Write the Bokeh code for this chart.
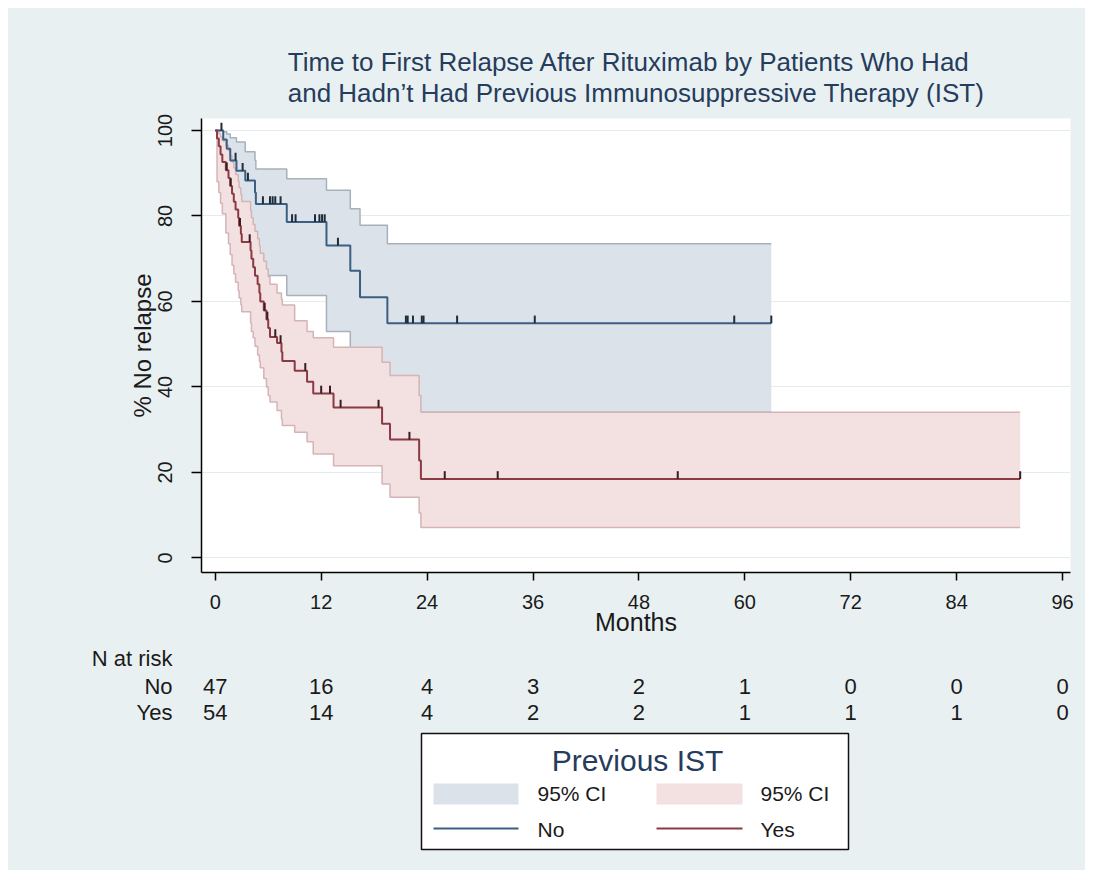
import numpy as np
from bokeh.plotting import figure
from bokeh.layouts import column
from bokeh.models import Range1d, FixedTicker, ColumnDataSource
from bokeh.embed import file_html
from bokeh.resources import INLINE
from bokeh.core.properties import value

FONT = "Liberation Sans"
BG = "#e9f0f2"
NAVY = "#263c5c"
BLUE_LINE = "#3b5f82"
RED_LINE = "#8b3a43"
BLUE_FILL = "#dbe2e9"
BLUE_EDGE = "#a7b1bb"
RED_FILL = "#f3e0e1"
RED_EDGE = "#d4b4b7"

# ---------------- data (months, % no relapse) ----------------
# Previous IST = No
no_t = [0, 0.9, 1.3, 1.7, 2.4, 3.4, 4.5, 4.6, 8.1, 12.6, 15.3, 16.4, 19.5]
no_s = [100, 97.9, 95.7, 93.0, 90.6, 88.3, 85.5, 82.8, 78.6, 73.1, 67.2, 61.0, 54.9]
no_lo = [100, 86.0, 83.5, 80.5, 77.5, 75.0, 71.0, 66.1, 61.4, 53.0, 47.5, 41.5, 34.1]
no_hi = [100, 99.7, 99.2, 98.3, 97.3, 95.0, 93.0, 91.0, 88.7, 86.0, 81.7, 77.8, 73.5]
no_end = 63.0
no_cens = [0.7, 2.3, 3.1, 3.7, 5.4, 6.2, 6.5, 6.8, 7.4, 8.7, 9.1, 11.3, 11.8, 12.1,
           12.4, 13.9, 21.6, 21.8, 22.4, 23.4, 23.6, 27.4, 36.2, 58.8, 63.0]

# Previous IST = Yes
yes_t = [0, 0.2, 0.4, 0.6, 0.8, 1.2, 1.5, 1.7, 1.9, 2.1, 2.3, 2.6, 2.7, 2.9, 3.0,
         4.0, 4.1, 4.3, 4.5, 4.8, 5.0, 5.1, 5.5, 5.8, 6.0, 6.2, 7.0, 7.5, 7.6,
         9.0, 10.4, 11.1, 13.4, 18.9, 19.8, 23.1, 23.3]
yes_s = [100, 98.1, 96.3, 94.4, 92.6, 90.7, 88.9, 87.0, 85.2, 83.3, 81.5, 79.6, 77.7,
         75.8, 73.9, 71.9, 70.0, 68.0, 66.0, 64.0, 62.0, 60.0, 57.9, 55.8, 53.8, 51.7,
         50.3, 48.2, 46.1, 43.8, 41.2, 38.5, 35.2, 31.4, 27.7, 22.8, 18.5]
yes_lo = [100, 88.0, 85.5, 83.0, 80.5, 76.0, 73.5, 71.0, 68.5, 66.5, 64.5, 62.5, 60.8,
          59.2, 57.6, 55.0, 53.0, 51.5, 49.5, 47.5, 46.0, 44.5, 42.0, 40.0, 38.0, 36.5,
          34.5, 32.5, 31.0, 29.4, 27.2, 24.3, 21.6, 17.3, 14.2, 10.5, 7.1]
yes_hi = [100, 99.8, 99.3, 98.5, 97.6, 96.5, 95.3, 94.0, 92.6, 91.2, 89.7, 88.1, 86.6,
          85.0, 83.4, 81.3, 79.6, 78.0, 76.4, 74.7, 73.0, 71.3, 69.4, 67.6, 65.8, 64.0,
          62.0, 60.5, 59.2, 55.5, 53.0, 51.5, 49.3, 45.8, 42.7, 38.0, 34.1]
yes_end = 91.2
yes_cens = [1.3, 1.75, 2.8, 3.9, 5.6, 5.9, 6.8, 7.4, 10.2, 12.0, 13.0, 14.2, 18.5,
            22.0, 26.0, 32.0, 52.4, 91.2]

x_ticks = [0, 12, 24, 36, 48, 60, 72, 84, 96]
y_ticks = [0, 20, 40, 60, 80, 100]
risk_no = [47, 16, 4, 3, 2, 1, 0, 0, 0]
risk_yes = [54, 14, 4, 2, 2, 1, 1, 1, 0]
risk_header = "N at risk"
risk_rows = ["No", "Yes"]

title_text = ("Time to First Relapse After Rituximab by Patients Who Had\n"
              "and Hadn\u2019t Had Previous Immunosuppressive Therapy (IST)")


def extend(t, vals, end):
    return list(t) + [end], list(vals) + [vals[-1]]


def km_at(t, s, c):
    idx = np.searchsorted(np.asarray(t), np.asarray(c), side="right") - 1
    return np.asarray(s)[idx]


# ---------------- main plot ----------------
XS, XE = -1.56, 96.9
xr = Range1d(XS, XE)
p = figure(width=1077, height=637, x_range=xr, y_range=Range1d(-3.4, 102.8),
           output_backend="svg", toolbar_location=None,
           min_border_left=193, min_border_right=15, min_border_top=110, min_border_bottom=73,
           background_fill_color="white", border_fill_color=BG)
p.outline_line_color = None

p.title.text = title_text
p.title.align = "center"
p.title.text_font = FONT
p.title.text_font_size = "26px"
p.title.text_font_style = "normal"
p.title.text_color = NAVY
p.title.text_line_height = 1.05
p.title.standoff = 21

p.xgrid.visible = False
p.ygrid.grid_line_color = "#e4ecef"
p.ygrid.grid_line_width = 1

for ax in (p.xaxis[0], p.yaxis[0]):
    ax.axis_line_color = "black"
    ax.axis_line_width = 1.5
    ax.major_tick_line_color = "black"
    ax.major_tick_line_width = 1.5
    ax.major_tick_in = 0
    ax.minor_tick_out = 0
    ax.minor_tick_in = 0
    ax.major_label_text_font = FONT
    ax.major_label_text_font_size = "20px"
    ax.major_label_text_color = "#1a1a1a"
    ax.axis_label_text_font = FONT
    ax.axis_label_text_font_style = "normal"
    ax.axis_label_text_color = "#1a1a1a"

p.xaxis.ticker = FixedTicker(ticks=x_ticks)
p.yaxis.ticker = FixedTicker(ticks=y_ticks)
p.xaxis.axis_label = "Months"
p.yaxis.axis_label = "% No relapse"
p.xaxis.axis_label_text_font_size = "25px"
p.yaxis.axis_label_text_font_size = "24px"
p.xaxis.major_tick_out = 8
p.yaxis.major_tick_out = 10
p.xaxis.major_label_standoff = 14
p.yaxis.major_label_standoff = 19
p.xaxis.axis_label_standoff = -4
p.yaxis.axis_label_standoff = 0
p.yaxis.major_label_orientation = "vertical"

nt, nlo = extend(no_t, no_lo, no_end)
_, nhi = extend(no_t, no_hi, no_end)
_, ns = extend(no_t, no_s, no_end)
yt, ylo = extend(yes_t, yes_lo, yes_end)
_, yhi = extend(yes_t, yes_hi, yes_end)
_, ys = extend(yes_t, yes_s, yes_end)

src_no = ColumnDataSource(dict(t=nt, lo=nlo, hi=nhi, s=ns))
src_yes = ColumnDataSource(dict(t=yt, lo=ylo, hi=yhi, s=ys))

# confidence bands
p.varea_step(x="t", y1="lo", y2="hi", source=src_no, step_mode="after", fill_color=BLUE_FILL)
p.step(x="t", y="lo", source=src_no, mode="after", line_color=BLUE_EDGE, line_width=1.5)
p.step(x="t", y="hi", source=src_no, mode="after", line_color=BLUE_EDGE, line_width=1.5)

p.varea_step(x="t", y1="lo", y2="hi", source=src_yes, step_mode="after", fill_color=RED_FILL)
p.step(x="t", y="lo", source=src_yes, mode="after", line_color=RED_EDGE, line_width=1.5)
p.step(x="t", y="hi", source=src_yes, mode="after", line_color=RED_EDGE, line_width=1.5)

# survival curves
p.step(x="t", y="s", source=src_no, mode="after", line_color=BLUE_LINE, line_width=2)
p.step(x="t", y="s", source=src_yes, mode="after", line_color=RED_LINE, line_width=2)

# censoring marks
cn = km_at(no_t, no_s, no_cens)
cy = km_at(yes_t, yes_s, yes_cens)
p.segment(x0=no_cens, x1=no_cens, y0=cn, y1=cn + 1.8, line_color="#1f2d3a", line_width=2)
p.segment(x0=yes_cens, x1=yes_cens, y0=cy, y1=cy + 1.8, line_color="#3a1c20", line_width=2)

# ---------------- number at risk + legend panel (frame aligned with main plot) ----------------
ppm = 869 / (XE - XS)


def mx(page_x):
    return XS + (page_x - 201) / ppm


ROW_Y = [10, 41, 67]   # header, No, Yes (pixels from panel top)

q = figure(width=1077, height=225, x_range=xr, y_range=Range1d(225, 0),
           output_backend="svg", toolbar_location=None,
           x_axis_location=None, y_axis_location="left",
           min_border_left=193, min_border_right=15, min_border_top=0, min_border_bottom=0,
           background_fill_color=BG, border_fill_color=BG)
q.outline_line_color = None
q.grid.visible = False

# row labels of the at-risk table as a (line-less) left axis
ya = q.yaxis[0]
ya.ticker = FixedTicker(ticks=ROW_Y)
ya.major_label_overrides = {ROW_Y[0]: risk_header, ROW_Y[1]: risk_rows[0], ROW_Y[2]: risk_rows[1]}
ya.axis_line_color = None
ya.major_tick_line_color = None
ya.major_tick_out = 0
ya.major_tick_in = 0
ya.minor_tick_out = 0
ya.minor_tick_in = 0
ya.major_label_standoff = 29
ya.major_label_text_font = FONT
ya.major_label_text_font_size = "22px"
ya.major_label_text_color = "#1a1a1a"

tab = dict(text_font=value(FONT), text_font_size="22px", text_color="#1a1a1a",
           text_baseline="middle", text_align="center")
q.text(x=x_ticks, y=[ROW_Y[1]] * len(x_ticks), text=[str(v) for v in risk_no], **tab)
q.text(x=x_ticks, y=[ROW_Y[2]] * len(x_ticks), text=[str(v) for v in risk_yes], **tab)

# legend
q.quad(left=[mx(421)], right=[mx(848)], top=[88], bottom=[204],
       fill_color="white", line_color="#111111", line_width=1.5)
q.text(x=[mx(637)], y=[115], text=["Previous IST"], text_align="center", text_baseline="middle",
       text_font=value(FONT), text_font_size="30px", text_color=NAVY)
q.quad(left=[mx(433), mx(656)], right=[mx(518), mx(742)], top=[138, 138], bottom=[159, 159],
       fill_color=[BLUE_FILL, RED_FILL], line_color=None)
q.segment(x0=[mx(433), mx(656)], x1=[mx(518), mx(742)], y0=[183, 183], y1=[183, 183],
          line_color=[BLUE_LINE, RED_LINE], line_width=2)
leg = dict(text_font=value(FONT), text_font_size="21px", text_color="#1a1a1a",
           text_baseline="middle", text_align="left")
q.text(x=[mx(537), mx(760), mx(537), mx(760)], y=[148, 148, 184, 184],
       text=["95% CI", "95% CI", "No", "Yes"], **leg)

layout = column(p, q, spacing=0, margin=(8, 8, 8, 8), styles={"background-color": BG})
open("out.html", "w").write(file_html(layout, INLINE))
